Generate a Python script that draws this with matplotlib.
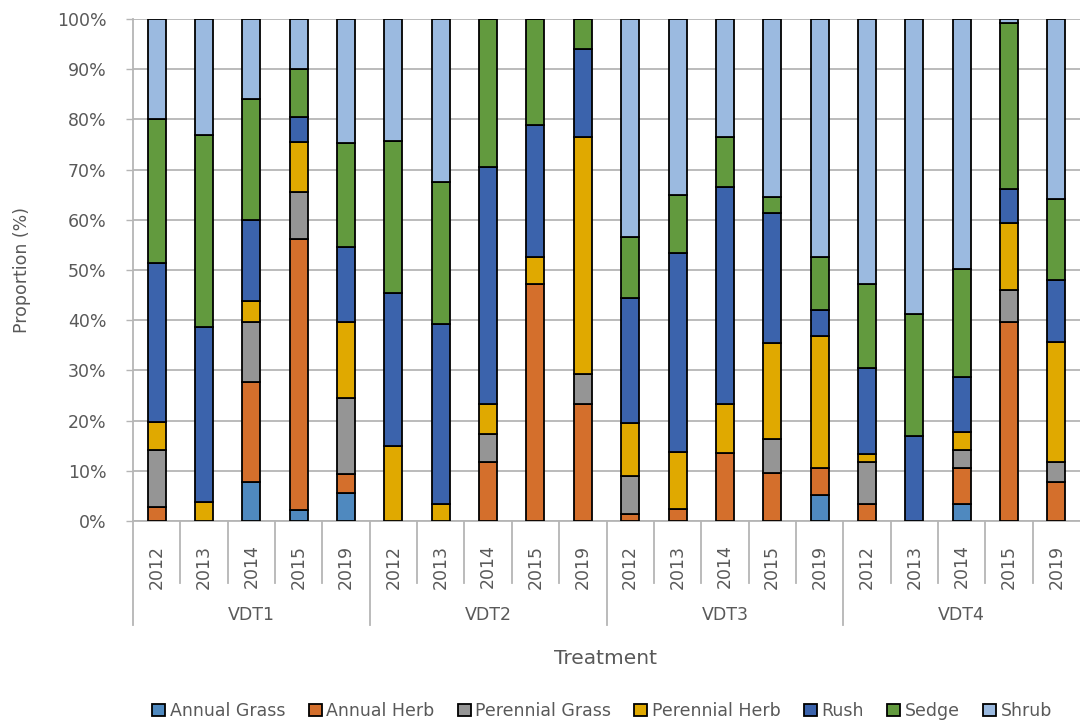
import numpy as np
import matplotlib
matplotlib.use("Agg")
import matplotlib.pyplot as plt
import matplotlib.transforms as mtransforms

plt.rcParams['font.family'] = ['DejaVu Sans']

# category labels
treatments = ["VDT1", "VDT2", "VDT3", "VDT4"]
years = ["2012", "2013", "2014", "2015", "2019"]

# proportion (%) of each functional group, 20 bars: VDT1..VDT4 x years
annual_grass = [0, 0, 7.8, 2.2, 5.5,
                0, 0, 0, 0, 0,
                0, 0, 0, 0, 5.1,
                0, 0, 3.4, 0, 0]
annual_herb = [2.7, 0, 19.9, 53.9, 3.9,
               0, 0, 11.8, 47.3, 23.4,
               1.3, 2.3, 13.5, 9.5, 5.5,
               3.4, 0, 7.1, 39.7, 7.8]
perennial_grass = [11.5, 0, 12.0, 9.5, 15.2,
                   0, 0, 5.6, 0, 5.9,
                   7.7, 0, 0, 6.8, 0,
                   8.3, 0, 3.7, 6.4, 3.9]
perennial_herb = [5.6, 3.8, 4.1, 9.9, 15.1,
                  15.0, 3.4, 6.0, 5.2, 47.1,
                  10.5, 11.5, 9.9, 19.1, 26.3,
                  1.7, 0, 3.6, 13.2, 24.0]
rush = [31.5, 34.8, 16.2, 4.9, 14.8,
        30.4, 35.9, 47.1, 26.3, 17.6,
        25.0, 39.5, 43.2, 25.9, 5.2,
        17.1, 17.0, 10.8, 6.8, 12.4]
sedge = [28.7, 38.3, 24.0, 9.6, 20.7,
         30.3, 28.3, 29.5, 21.2, 6.0,
         12.0, 11.6, 9.9, 3.2, 10.4,
         16.8, 24.3, 21.5, 33.1, 16.0]
shrub = [20.0, 23.1, 16.0, 10.0, 24.8,
         24.3, 32.4, 0, 0, 0,
         43.5, 35.1, 23.5, 35.5, 47.5,
         52.7, 58.7, 49.9, 0.8, 35.9]

series = [
    ("Annual Grass", annual_grass, "#4F89BF"),
    ("Annual Herb", annual_herb, "#D46F2C"),
    ("Perennial Grass", perennial_grass, "#959595"),
    ("Perennial Herb", perennial_herb, "#E0A900"),
    ("Rush", rush, "#3B63AC"),
    ("Sedge", sedge, "#629A3E"),
    ("Shrub", shrub, "#9BBAE0"),
]

text_col = "#595959"
grid_col = "#B5B5B5"
fs = 12.5

fig = plt.figure(figsize=(10.8, 7.24), dpi=100)
ax = fig.add_axes([133 / 1080, 1 - 521 / 724, 1 - 133 / 1080, 502 / 724])

n = len(treatments) * len(years)
x = np.arange(n)
bottom = np.zeros(n)
for name, vals, col in series:
    vals = np.array(vals, dtype=float)
    ax.bar(x, vals, 0.38, bottom=bottom, color=col, edgecolor="black",
           linewidth=1.3, label=name, zorder=3)
    bottom += vals

ax.set_xlim(-0.5, n - 0.5)
ax.set_ylim(0, 100)
ax.set_yticks(np.arange(0, 101, 10))
ax.set_yticklabels([f"{v}%" for v in range(0, 101, 10)])
ax.yaxis.grid(True, color=grid_col, linewidth=1.3, zorder=0)
ax.tick_params(axis="y", length=5, width=1, color=grid_col, labelsize=fs,
               labelcolor=text_col, pad=14)

for s in ["top", "right"]:
    ax.spines[s].set_visible(False)
for s in ["left", "bottom"]:
    ax.spines[s].set_color(grid_col)
    ax.spines[s].set_linewidth(1.3)

# year labels as x ticks
ax.set_xticks(x)
ax.set_xticklabels(years * len(treatments), rotation=90, fontsize=fs,
                   color=text_col, va="top")
ax.tick_params(axis="x", length=0, pad=17)

# separators of the two-level category axis
trans = mtransforms.blended_transform_factory(ax.transData, ax.transAxes)
yr_depth = -62 / 502
grp_depth = -104 / 502
for i in range(n):
    xb = i - 0.5
    depth = grp_depth if i % len(years) == 0 else yr_depth
    ax.plot([xb, xb], [0, depth], color=grid_col, linewidth=1.3,
            transform=trans, clip_on=False)

for g, name in enumerate(treatments):
    xc = g * len(years) + (len(years) - 1) / 2
    ax.text(xc, -94 / 502, name, transform=trans, ha="center", va="center",
            fontsize=fs, color=text_col)

ax.set_ylabel("Proportion (%)", fontsize=fs, color=text_col, labelpad=19)
fig.text(605 / 1080, 1 - 659 / 724, "Treatment", ha="center", va="center",
         fontsize=14.5, color=text_col)

leg = fig.legend(loc="center", bbox_to_anchor=(602 / 1080, 1 - 711 / 724),
                 ncol=7, frameon=False, fontsize=fs, handlelength=0.75,
                 handleheight=0.75, handletextpad=0.25, columnspacing=1.35)
for t in leg.get_texts():
    t.set_color(text_col)

fig.savefig("out.png", dpi=100)
